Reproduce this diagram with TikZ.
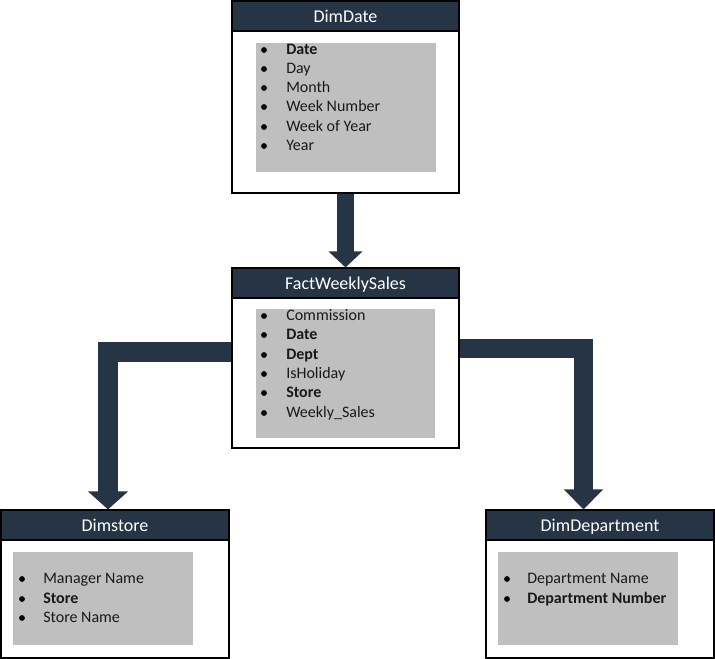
\documentclass[tikz,border=0pt]{standalone}
\usepackage{fontspec}
\setmainfont{Carlito}
\usetikzlibrary{fit,arrows.meta}
\definecolor{hdrc}{HTML}{263545}
\definecolor{grayc}{HTML}{BFBFBF}
\tikzset{
  box/.style={draw=black, line width=0.8pt, fill=white, inner sep=0pt},
  hdr/.style={draw=black, line width=0.8pt, fill=hdrc, inner sep=0pt},
  hdrtext/.style={text=white, font=\fontsize{13.5}{15}\selectfont, inner sep=0pt, anchor=base},
  panel/.style={fill=grayc, inner sep=0pt},
  item/.style={anchor=base west, inner sep=0pt, font=\fontsize{12}{14}\selectfont, text=black!90},
  bul/.style={fill=black},
  conn/.style={draw=hdrc, line join=miter, line cap=butt}
}
\begin{document}
\begin{tikzpicture}[x=0.75pt,y=-0.75pt]
\useasboundingbox (0,0) rectangle (715,659);
% DimDate
\node[box, fit={(232,1)(459,193)}] (date) {};
\node[hdr, fit={(232,1)(459,31)}] (dateh) {};
\node[hdrtext] (datet) at ([yshift=-6.5*0.75pt]dateh.center) {DimDate};
\node[panel, fit={(256,43)(436,172)}] (datep) {};
\foreach \y/\t [count=\i] in {50/\textbf{Date},69/Day,88/Month,107/Week Number,127/Week of Year,146/Year}{
  \fill[bul] (264,\y) circle (2.9);
  \node[item] (dateitem\i) at (286,\y+5) {\t};
}
% FactWeeklySales
\node[box, fit={(232,268)(459,448)}] (fact) {};
\node[hdr, fit={(232,268)(459,298)}] (facth) {};
\node[hdrtext] (factt) at ([yshift=-6.5*0.75pt]facth.center) {FactWeeklySales};
\node[panel, fit={(256,309)(435,438)}] (factp) {};
\foreach \y/\t [count=\i] in {316/Commission,335/\textbf{Date},355/\textbf{Dept},374/IsHoliday,393/\textbf{Store},413/Weekly\_Sales}{
  \fill[bul] (264,\y) circle (2.9);
  \node[item] (factitem\i) at (286,\y+5) {\t};
}
% Dimstore
\node[box, fit={(1,510)(229,658)}] (store) {};
\node[hdr, fit={(1,510)(229,540)}] (storeh) {};
\node[hdrtext] (storet) at ([yshift=-6.5*0.75pt]storeh.center) {Dimstore};
\node[panel, fit={(13,552)(193,645)}] (storep) {};
\foreach \y/\t [count=\i] in {579/Manager Name,599/\textbf{Store},618/Store Name}{
  \fill[bul] (22,\y) circle (2.9);
  \node[item] (storeitem\i) at (43,\y+5) {\t};
}
% DimDepartment
\node[box, fit={(486,510)(714,658)}] (dept) {};
\node[hdr, fit={(486,510)(714,540)}] (depth) {};
\node[hdrtext] (deptt) at ([yshift=-6.5*0.75pt]depth.center) {DimDepartment};
\node[panel, fit={(498,552)(678,645)}] (deptp) {};
\foreach \y/\t [count=\i] in {579/Department Name,599/\textbf{Department Number}}{
  \fill[bul] (507,\y) circle (2.9);
  \node[item] (deptitem\i) at (527,\y+5) {\t};
}
% connectors
\coordinate (ax) at (345.5,0);
\coordinate (ly) at (0,352);
\coordinate (lx) at (108,0);
\coordinate (ry) at (0,349);
\coordinate (rx) at (583.5,0);
\draw[conn, line width=12.75pt, -{Triangle[width=24.75pt,length=12pt]}, hdrc]
  (date.south -| ax) -- (fact.north -| ax);
\draw[conn, line width=15pt, -{Triangle[width=29.25pt,length=13.5pt]}, hdrc]
  (fact.west |- ly) -| (store.north -| lx);
\draw[conn, line width=14.25pt, -{Triangle[width=28.5pt,length=15pt]}, hdrc]
  (fact.east |- ry) -| (dept.north -| rx);
\end{tikzpicture}
\end{document}
